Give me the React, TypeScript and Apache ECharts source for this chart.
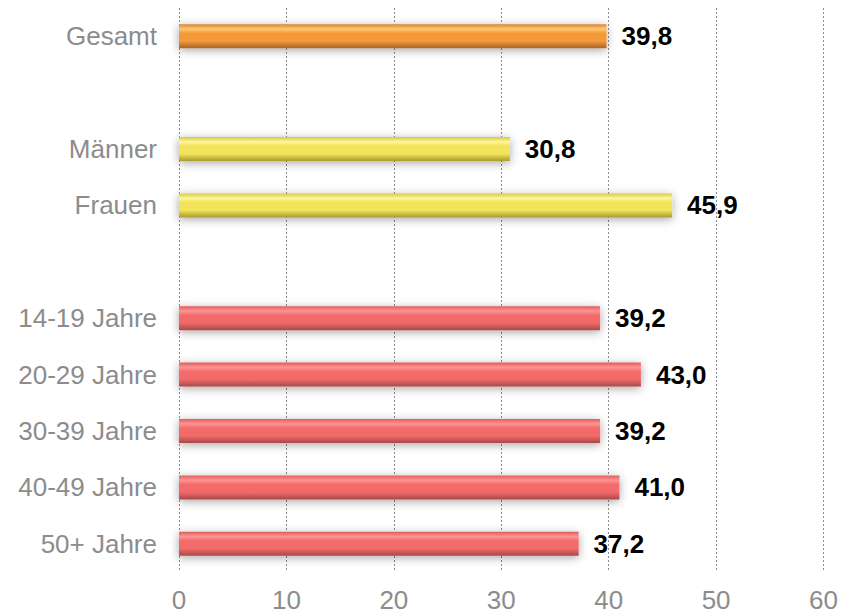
import React, { useEffect, useRef } from "react";
import * as echarts from "echarts";

const categories = [
  "Gesamt",
  " ",
  "Männer",
  "Frauen",
  "  ",
  "14-19 Jahre",
  "20-29 Jahre",
  "30-39 Jahre",
  "40-49 Jahre",
  "50+ Jahre",
];
const values: (number | null)[] = [39.8, null, 30.8, 45.9, null, 39.2, 43.0, 39.2, 41.0, 37.2];
const groups = ["total", "", "gender", "gender", "", "age", "age", "age", "age", "age"];
const xTicks = [0, 10, 20, 30, 40, 50, 60];

const palettes: Record<string, [string, string, string, string]> = {
  total: ["#D98530", "#FFC870", "#F59A3A", "#A8642A"],
  gender: ["#D8C840", "#FFF69A", "#F2E35A", "#A89A30"],
  age: ["#E05C5C", "#FF9494", "#F26A6A", "#A84848"],
};

function grad(g: string) {
  const p = palettes[g];
  return new echarts.graphic.LinearGradient(0, 0, 0, 1, [
    { offset: 0, color: p[0] },
    { offset: 0.2, color: p[1] },
    { offset: 0.38, color: p[2] },
    { offset: 0.7, color: p[2] },
    { offset: 1, color: p[3] },
  ]);
}

const FONT = "Liberation Sans, Arial, sans-serif";

export default function App() {
  const ref = useRef<HTMLDivElement>(null);
  useEffect(() => {
    if (!ref.current) return;
    const chart = echarts.init(ref.current, null, { renderer: "svg" });
    chart.setOption({
      animation: false,
      grid: { left: 179, right: 17, top: 8, bottom: 43, containLabel: false },
      xAxis: {
        type: "value",
        min: xTicks[0],
        max: xTicks[xTicks.length - 1],
        interval: 10,
        axisLine: { show: false },
        axisTick: { show: false },
        splitLine: { show: true, lineStyle: { type: [2, 2], color: "#8a8a8a", width: 1 } },
        axisLabel: {
          color: "#8c8c8c",
          fontSize: 26,
          fontFamily: FONT,
          margin: 15,
        },
      },
      yAxis: {
        type: "category",
        data: categories,
        inverse: true,
        axisLine: { show: false },
        axisTick: { show: false },
        splitLine: { show: false },
        axisLabel: {
          color: "#8c8c8c",
          fontSize: 26,
          fontFamily: FONT,
          margin: 22,
        },
      },
      series: [
        {
          type: "bar",
          barWidth: 24,
          data: values.map((v, i) =>
            v === null
              ? null
              : {
                  value: v,
                  itemStyle: {
                    color: grad(groups[i]),
                    shadowColor: "rgba(0,0,0,0.35)",
                    shadowBlur: 10,
                    shadowOffsetY: 2,
                  },
                }
          ),
          label: {
            show: true,
            position: "right",
            distance: 15,
            color: "#000",
            fontSize: 26,
            fontWeight: "bold",
            fontFamily: FONT,
            formatter: (p: any) => Number(p.value).toFixed(1).replace(".", ","),
          },
        },
      ],
    });
    return () => chart.dispose();
  }, []);
  return <div ref={ref} style={{ width: 841, height: 615, position: "absolute", left: 0, top: 0 }} />;
}
